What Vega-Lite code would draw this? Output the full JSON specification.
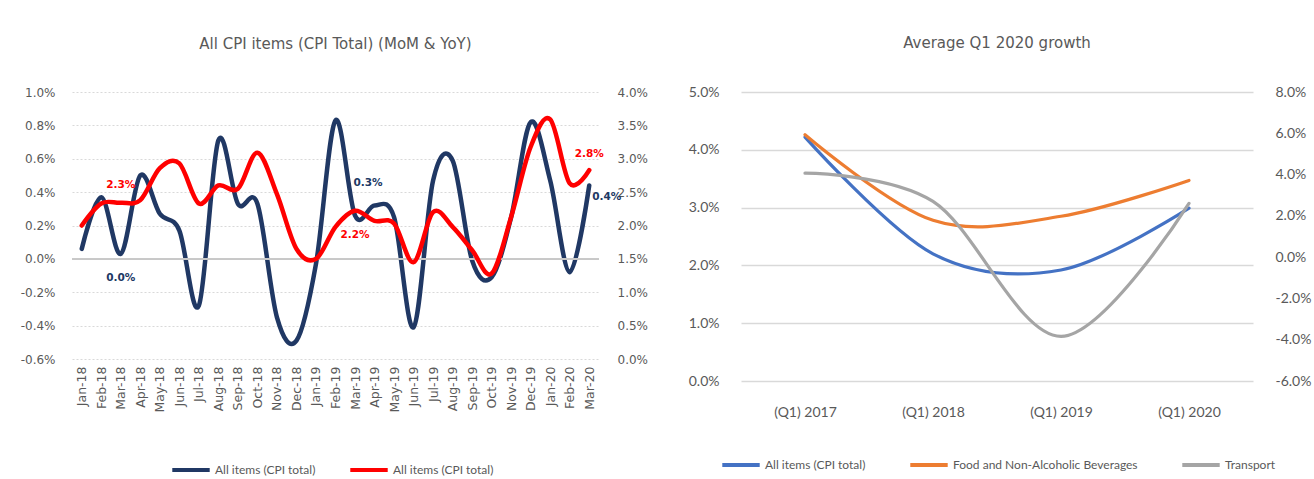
{
  "$schema": "https://vega.github.io/schema/vega-lite/v6.json",
  "background": "white",
  "padding": {"left": 20, "top": 36, "right": 5, "bottom": 5},
  "spacing": 40,
  "config": {
    "view": {"stroke": null},
    "axis": {"labelColor": "#595959", "domain": false, "ticks": false, "title": null, "labelOverlap": false},
    "title": {"color": "#595959", "font": "DejaVu Sans", "fontSize": 15, "fontWeight": "normal"}
  },
  "datasets": {
    "monthly": [
      {"month": "Jan-18", "mom": 0.06, "yoy": 2.00},
      {"month": "Feb-18", "mom": 0.37, "yoy": 2.33},
      {"month": "Mar-18", "mom": 0.03, "yoy": 2.34},
      {"month": "Apr-18", "mom": 0.50, "yoy": 2.38},
      {"month": "May-18", "mom": 0.27, "yoy": 2.86},
      {"month": "Jun-18", "mom": 0.17, "yoy": 2.93},
      {"month": "Jul-18", "mom": -0.28, "yoy": 2.33},
      {"month": "Aug-18", "mom": 0.71, "yoy": 2.60},
      {"month": "Sep-18", "mom": 0.33, "yoy": 2.55},
      {"month": "Oct-18", "mom": 0.33, "yoy": 3.09},
      {"month": "Nov-18", "mom": -0.35, "yoy": 2.47},
      {"month": "Dec-18", "mom": -0.49, "yoy": 1.65},
      {"month": "Jan-19", "mom": -0.03, "yoy": 1.50},
      {"month": "Feb-19", "mom": 0.83, "yoy": 1.98},
      {"month": "Mar-19", "mom": 0.26, "yoy": 2.22},
      {"month": "Apr-19", "mom": 0.32, "yoy": 2.07},
      {"month": "May-19", "mom": 0.25, "yoy": 2.03},
      {"month": "Jun-19", "mom": -0.41, "yoy": 1.45},
      {"month": "Jul-19", "mom": 0.47, "yoy": 2.20},
      {"month": "Aug-19", "mom": 0.59, "yoy": 1.98},
      {"month": "Sep-19", "mom": -0.01, "yoy": 1.63},
      {"month": "Oct-19", "mom": -0.11, "yoy": 1.28},
      {"month": "Nov-19", "mom": 0.25, "yoy": 2.13},
      {"month": "Dec-19", "mom": 0.82, "yoy": 3.18},
      {"month": "Jan-20", "mom": 0.47, "yoy": 3.59},
      {"month": "Feb-20", "mom": -0.08, "yoy": 2.63},
      {"month": "Mar-20", "mom": 0.44, "yoy": 2.83}
    ],
    "quarterly": [
      {"year": "(Q1) 2017", "series": "All items (CPI total)", "value": 4.22},
      {"year": "(Q1) 2018", "series": "All items (CPI total)", "value": 2.20},
      {"year": "(Q1) 2019", "series": "All items (CPI total)", "value": 1.92},
      {"year": "(Q1) 2020", "series": "All items (CPI total)", "value": 2.99},
      {"year": "(Q1) 2017", "series": "Food and Non-Alcoholic Beverages", "value": 4.26},
      {"year": "(Q1) 2018", "series": "Food and Non-Alcoholic Beverages", "value": 2.78},
      {"year": "(Q1) 2019", "series": "Food and Non-Alcoholic Beverages", "value": 2.85},
      {"year": "(Q1) 2020", "series": "Food and Non-Alcoholic Beverages", "value": 3.47},
      {"year": "(Q1) 2017", "series": "Transport", "value": 4.07},
      {"year": "(Q1) 2018", "series": "Transport", "value": 2.70},
      {"year": "(Q1) 2019", "series": "Transport", "value": -3.84},
      {"year": "(Q1) 2020", "series": "Transport", "value": 2.60}
    ]
  },
  "resolve": {"scale": {"color": "independent"}, "legend": {"color": "independent"}},
  "hconcat": [
    {
      "width": 527,
      "height": 267,
      "title": {"text": "All CPI items (CPI Total) (MoM & YoY)", "offset": 34},
      "data": {"name": "monthly"},
      "encoding": {
        "x": {
          "field": "month", "type": "ordinal", "sort": null,
          "scale": {"type": "point", "padding": 0.5},
          "axis": {"labelAngle": -90, "labelFont": "DejaVu Sans", "labelFontSize": 12.5, "labelPadding": 7, "grid": false}
        }
      },
      "layer": [
        {
          "encoding": {
            "y": {
              "field": "mom", "type": "quantitative",
              "scale": {"domain": [-0.6, 1.0], "nice": false, "zero": false},
              "axis": {
                "orient": "left", "values": [-0.6, -0.4, -0.2, 0, 0.2, 0.4, 0.6, 0.8, 1.0],
                "labelExpr": "replace(format(datum.value, '.1f'), '\u2212', '-') + '%'",
                "labelFont": "DejaVu Sans", "labelFontSize": 12, "labelPadding": 17,
                "grid": true, "gridColor": "#d9d9d9", "gridDash": [2, 2]
              }
            }
          },
          "layer": [
            {
              "mark": {"type": "line", "interpolate": "cardinal", "strokeWidth": 4.5, "strokeCap": "round"},
              "encoding": {
                "color": {
                  "datum": "MoM", "type": "nominal",
                  "scale": {"domain": ["MoM", "YoY"], "range": ["#203864", "#ff0000"]},
                  "legend": {
                    "orient": "none", "legendX": 98, "legendY": 357, "direction": "horizontal",
                    "title": null, "symbolType": "stroke", "symbolStrokeWidth": 4, "symbolSize": 1400,
                    "labelExpr": "'All items (CPI total)'", "labelLimit": 0,
                    "labelFont": "Lato", "labelFontSize": 12, "labelColor": "#595959", "labelOffset": 3, "columnPadding": 26
                  }
                }
              }
            },
            {
              "transform": [
                {"filter": "datum.month == 'Mar-18'"},
                {"calculate": "format(datum.mom, '.1f') + '%'", "as": "lbl"}
              ],
              "mark": {"type": "text", "font": "DejaVu Sans", "fontSize": 10.5, "fontWeight": "bold", "color": "#203864", "dy": 24},
              "encoding": {"text": {"field": "lbl"}}
            },
            {
              "transform": [
                {"filter": "datum.month == 'Mar-19'"},
                {"calculate": "format(datum.mom, '.1f') + '%'", "as": "lbl"}
              ],
              "mark": {"type": "text", "font": "DejaVu Sans", "fontSize": 10.5, "fontWeight": "bold", "color": "#203864", "dx": 13, "dy": -32},
              "encoding": {"text": {"field": "lbl"}}
            },
            {
              "transform": [
                {"filter": "datum.month == 'Mar-20'"},
                {"calculate": "format(datum.mom, '.1f') + '%'", "as": "lbl"}
              ],
              "mark": {"type": "text", "font": "DejaVu Sans", "fontSize": 10.5, "fontWeight": "bold", "color": "#203864", "align": "left", "dx": 3, "dy": 12},
              "encoding": {"text": {"field": "lbl"}}
            }
          ]
        },
        {
          "encoding": {
            "y": {
              "field": "yoy", "type": "quantitative",
              "scale": {"domain": [0, 4.0], "nice": false},
              "axis": {
                "orient": "right", "values": [0, 0.5, 1, 1.5, 2, 2.5, 3, 3.5, 4],
                "labelExpr": "format(datum.value, '.1f') + '%'",
                "labelFont": "DejaVu Sans", "labelFontSize": 12, "labelPadding": 18, "grid": false
              }
            }
          },
          "layer": [
            {
              "mark": {"type": "rule", "color": "#c8c8c8", "strokeWidth": 1},
              "encoding": {"y": {"datum": 1.5, "type": "quantitative"}, "x": null}
            },
            {
              "mark": {"type": "line", "interpolate": "cardinal", "strokeWidth": 4.5, "strokeCap": "round"},
              "encoding": {"color": {"datum": "YoY", "type": "nominal"}}
            },
            {
              "transform": [
                {"filter": "datum.month == 'Mar-18'"},
                {"calculate": "format(datum.yoy, '.1f') + '%'", "as": "lbl"}
              ],
              "mark": {"type": "text", "font": "DejaVu Sans", "fontSize": 10.5, "fontWeight": "bold", "color": "#ff0000", "dy": -18},
              "encoding": {"text": {"field": "lbl"}}
            },
            {
              "transform": [
                {"filter": "datum.month == 'Mar-19'"},
                {"calculate": "format(datum.yoy, '.1f') + '%'", "as": "lbl"}
              ],
              "mark": {"type": "text", "font": "DejaVu Sans", "fontSize": 10.5, "fontWeight": "bold", "color": "#ff0000", "dy": 24},
              "encoding": {"text": {"field": "lbl"}}
            },
            {
              "transform": [
                {"filter": "datum.month == 'Mar-20'"},
                {"calculate": "format(datum.yoy, '.1f') + '%'", "as": "lbl"}
              ],
              "mark": {"type": "text", "font": "DejaVu Sans", "fontSize": 10.5, "fontWeight": "bold", "color": "#ff0000", "dy": -16},
              "encoding": {"text": {"field": "lbl"}}
            }
          ]
        }
      ],
      "resolve": {"scale": {"y": "independent"}}
    },
    {
      "width": 512,
      "height": 289,
      "title": {"text": "Average Q1 2020 growth", "offset": 34},
      "data": {"name": "quarterly"},
      "layer": [
        {
          "transform": [{"filter": "datum.series != 'Transport'"}],
          "mark": {"type": "line", "interpolate": "cardinal", "strokeWidth": 3.2, "strokeCap": "round"},
          "encoding": {
            "x": {
              "field": "year", "type": "ordinal", "sort": null,
              "scale": {"type": "point", "padding": 0.5},
              "axis": {"labelAngle": 0, "labelFont": "Lato", "labelFontSize": 14, "labelPadding": 24, "grid": false}
            },
            "y": {
              "field": "value", "type": "quantitative",
              "scale": {"domain": [0, 5], "nice": false},
              "axis": {
                "orient": "left", "values": [0, 1, 2, 3, 4, 5],
                "labelExpr": "format(datum.value, '.1f') + '%'",
                "labelFont": "Lato", "labelFontSize": 14, "labelPadding": 22,
                "grid": true, "gridColor": "#d9d9d9", "gridWidth": 1.3
              }
            },
            "color": {
              "field": "series", "type": "nominal",
              "scale": {
                "domain": ["All items (CPI total)", "Food and Non-Alcoholic Beverages", "Transport"],
                "range": ["#4472c4", "#ed7d31", "#a5a5a5"]
              },
              "legend": {
                "orient": "none", "legendX": -21, "legendY": 352, "direction": "horizontal",
                "title": null, "symbolType": "stroke", "symbolStrokeWidth": 4, "symbolSize": 1400,
                "labelFont": "Lato", "labelFontSize": 12, "labelColor": "#595959", "labelOffset": 3,
                "columnPadding": 36, "labelLimit": 0
              }
            }
          }
        },
        {
          "transform": [{"filter": "datum.series == 'Transport'"}],
          "mark": {"type": "line", "interpolate": "cardinal", "strokeWidth": 3.2, "strokeCap": "round"},
          "encoding": {
            "x": {"field": "year", "type": "ordinal", "sort": null, "scale": {"type": "point", "padding": 0.5}},
            "y": {
              "field": "value", "type": "quantitative",
              "scale": {"domain": [-6, 8], "nice": false, "zero": false},
              "axis": {
                "orient": "right", "values": [-6, -4, -2, 0, 2, 4, 6, 8],
                "labelExpr": "replace(format(datum.value, '.1f'), '\u2212', '-') + '%'",
                "labelFont": "Lato", "labelFontSize": 14, "labelPadding": 22, "grid": false
              }
            },
            "color": {"field": "series", "type": "nominal"}
          }
        }
      ],
      "resolve": {"scale": {"y": "independent"}}
    }
  ]
}
